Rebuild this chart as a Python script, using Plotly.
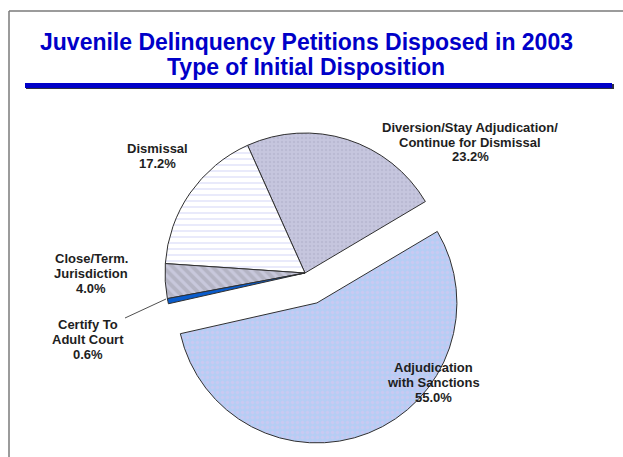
import plotly.graph_objects as go

W, H = 623, 457

# data
categories = ["Diversion/Stay Adjudication/<br>Continue for Dismissal",
              "Dismissal",
              "Close/Term.<br>Jurisdiction",
              "Certify To<br>Adult Court",
              "Adjudication<br>with Sanctions"]
shares = [23.2, 17.2, 4.0, 0.6, 55.0]
pulls = [0, 0, 0, 0, 0.23]
title_lines = ["Juvenile Delinquency Petitions Disposed in 2003",
               "Type of Initial Disposition"]

# styling per slice
fills = ["#c6c6de", "#ffffff", "#b4b4c4", "#0a5ccc", "#b6cdf4"]
pat_shapes = [".", "-", "\\", "", "."]
pat_fg = ["#aeaec8", "#c4c8f4", "#dcdcf4", "#0a5ccc", "#dcc6f0"]
pat_size = [4, 6, 7, 8, 5]
pat_solid = [0.3, 0.25, 0.45, 0.3, 0.35]

# label anchor points (pixels from top-left)
label_pos = [(470, 142), (157, 156), (91, 273), (88, 339), (433, 382)]


def px(x):
    return x / W


def py(y):
    return 1 - y / H


cx, cy, r = 305, 273, 140
outer = r * (1 + max(pulls))

fig = go.Figure(go.Pie(
    values=shares,
    labels=categories,
    sort=False,
    direction="counterclockwise",
    rotation=59.3 - 360 * shares[0] / sum(shares),
    pull=pulls,
    textinfo="none",
    hoverinfo="label+percent",
    marker=dict(
        colors=fills,
        line=dict(color="#303030", width=1),
        pattern=dict(shape=pat_shapes, fgcolor=pat_fg, size=pat_size,
                     solidity=pat_solid, fillmode="overlay"),
    ),
    domain=dict(x=[px(cx - outer), px(cx + outer)],
                y=[py(cy + outer), py(cy - outer)]),
    showlegend=False,
))

annotations = []
for i, line in enumerate(title_lines):
    annotations.append(dict(
        x=px(306), y=py(42 + 25 * i), xref="paper", yref="paper",
        text=line, showarrow=False, xanchor="center", yanchor="middle",
        font=dict(family="Liberation Sans, Arial", size=23, color="#0000c8", weight="bold"),
    ))
for (lx, ly), cat, val in zip(label_pos, categories, shares):
    lines = cat.split("<br>") + [f"{val:.1f}%"]
    n = len(lines)
    for i, line in enumerate(lines):
        annotations.append(dict(
            x=px(lx), y=py(ly + (i - (n - 1) / 2) * 15), xref="paper", yref="paper",
            text=line, showarrow=False, xanchor="center", yanchor="middle",
            font=dict(family="Liberation Sans, Arial", size=13, color="#1e1e1e", weight="bold"),
        ))

shapes = [
    # frame
    dict(type="line", xref="paper", yref="paper", x0=px(9), x1=1.0, y0=py(11), y1=py(11),
         line=dict(color="#7a7a7a", width=1.5)),
    dict(type="line", xref="paper", yref="paper", x0=px(9), x1=px(9), y0=py(11), y1=0,
         line=dict(color="#7a7a7a", width=1.5)),
    # blue rule under title
    dict(type="rect", xref="paper", yref="paper", x0=px(26), x1=px(614), y0=py(89), y1=py(84),
         fillcolor="#303040", line=dict(width=0)),
    dict(type="rect", xref="paper", yref="paper", x0=px(25), x1=px(612), y0=py(88), y1=py(83),
         fillcolor="#0000c8", line=dict(width=0)),
    # leader line to the small slice
    dict(type="line", xref="paper", yref="paper", x0=px(125), x1=px(166), y0=py(318), y1=py(299),
         line=dict(color="#505050", width=1)),
]

fig.update_layout(
    width=W, height=H,
    margin=dict(l=0, r=0, t=0, b=0),
    paper_bgcolor="white",
    plot_bgcolor="white",
    annotations=annotations,
    shapes=shapes,
)

fig.write_html("out.html", config={"displayModeBar": False},
               post_script="document.body.style.margin='0';")
